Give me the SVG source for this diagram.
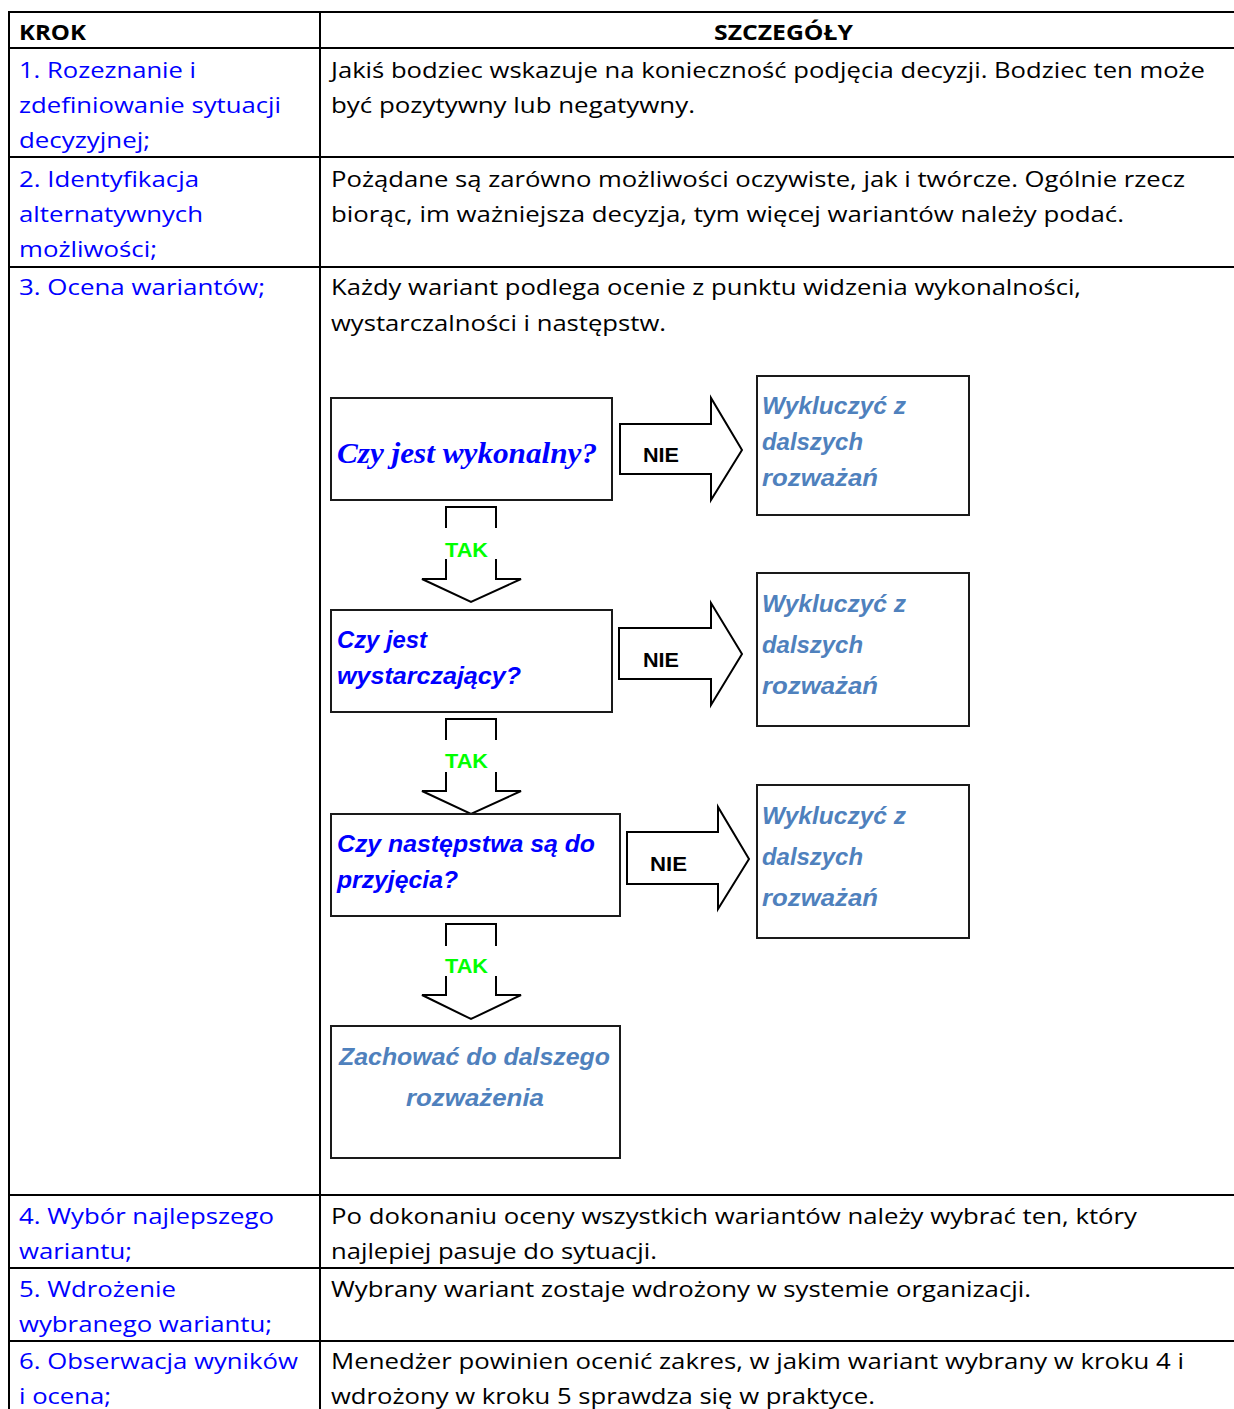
<svg xmlns="http://www.w3.org/2000/svg" width="1234" height="1409" viewBox="0 0 1234 1409">
<style>
.t{font-family:"Open Sans","Liberation Sans",Arial,sans-serif;font-size:22px;fill:#000}
.s{fill:#0000ff}
.h{font-weight:bold}
.ln{stroke:#000;stroke-width:2;fill:none}
.box{fill:#fff;stroke:#1a1a1a;stroke-width:2}
.q{font-family:"Liberation Sans",Arial,sans-serif;font-weight:bold;font-style:italic;font-size:24px;fill:#0000ff}
.qs{font-family:"Liberation Serif","Times New Roman",serif;font-weight:bold;font-style:italic;font-size:29px;fill:#0000ff}
.x{font-family:"Liberation Sans",Arial,sans-serif;font-weight:bold;font-style:italic;font-size:23px;fill:#4f81bd}
.arr{fill:#fff;stroke:#000;stroke-width:2;stroke-linejoin:miter}
.nie{font-family:"Liberation Sans",Arial,sans-serif;font-weight:bold;font-size:20px;fill:#000}
.tak{font-family:"Liberation Sans",Arial,sans-serif;font-weight:bold;font-size:21px;fill:#00ff00}
</style>
<rect width="1234" height="1409" fill="#fff"/>
<g id="table">
<line class="ln" x1="9" y1="12" x2="1234" y2="12"/>
<line class="ln" x1="9" y1="48" x2="1234" y2="48"/>
<line class="ln" x1="9" y1="157" x2="1234" y2="157"/>
<line class="ln" x1="9" y1="267" x2="1234" y2="267"/>
<line class="ln" x1="9" y1="1195" x2="1234" y2="1195"/>
<line class="ln" x1="9" y1="1268" x2="1234" y2="1268"/>
<line class="ln" x1="9" y1="1341" x2="1234" y2="1341"/>
<line class="ln" x1="9" y1="11" x2="9" y2="1409"/>
<line class="ln" x1="320" y1="11" x2="320" y2="1409"/>
</g>
<g id="header">
<text class="t h" x="19" y="40" textLength="67" lengthAdjust="spacingAndGlyphs">KROK</text>
<text class="t h" x="714" y="40" textLength="139" lengthAdjust="spacingAndGlyphs">SZCZEGÓŁY</text>
</g>
<g id="row1">
<text class="t s" x="19" y="78" textLength="177" lengthAdjust="spacingAndGlyphs">1. Rozeznanie i</text>
<text class="t s" x="19" y="113" textLength="262" lengthAdjust="spacingAndGlyphs">zdefiniowanie sytuacji</text>
<text class="t s" x="19" y="148" textLength="131" lengthAdjust="spacingAndGlyphs">decyzyjnej;</text>
<text class="t" x="331" y="78" textLength="874" lengthAdjust="spacingAndGlyphs">Jakiś bodziec wskazuje na konieczność podjęcia decyzji. Bodziec ten może</text>
<text class="t" x="331" y="113" textLength="364" lengthAdjust="spacingAndGlyphs">być pozytywny lub negatywny.</text>
</g>
<g id="row2">
<text class="t s" x="19" y="187" textLength="180" lengthAdjust="spacingAndGlyphs">2. Identyfikacja</text>
<text class="t s" x="19" y="222" textLength="184" lengthAdjust="spacingAndGlyphs">alternatywnych</text>
<text class="t s" x="19" y="257" textLength="138" lengthAdjust="spacingAndGlyphs">możliwości;</text>
<text class="t" x="331" y="187" textLength="854" lengthAdjust="spacingAndGlyphs">Pożądane są zarówno możliwości oczywiste, jak i twórcze. Ogólnie rzecz</text>
<text class="t" x="331" y="222" textLength="793" lengthAdjust="spacingAndGlyphs">biorąc, im ważniejsza decyzja, tym więcej wariantów należy podać.</text>
</g>
<g id="row3">
<text class="t s" x="19" y="295" textLength="246" lengthAdjust="spacingAndGlyphs">3. Ocena wariantów;</text>
<text class="t" x="331" y="295" font-size="24" textLength="750" lengthAdjust="spacingAndGlyphs">Każdy wariant podlega ocenie z punktu widzenia wykonalności,</text>
<text class="t" x="331" y="331" font-size="24" textLength="335" lengthAdjust="spacingAndGlyphs">wystarczalności i następstw.</text>
</g>
<g id="row4">
<text class="t s" x="19" y="1224" textLength="255" lengthAdjust="spacingAndGlyphs">4. Wybór najlepszego</text>
<text class="t s" x="19" y="1259" textLength="113" lengthAdjust="spacingAndGlyphs">wariantu;</text>
<text class="t" x="331" y="1224" textLength="806" lengthAdjust="spacingAndGlyphs">Po dokonaniu oceny wszystkich wariantów należy wybrać ten, który</text>
<text class="t" x="331" y="1259" textLength="326" lengthAdjust="spacingAndGlyphs">najlepiej pasuje do sytuacji.</text>
</g>
<g id="row5">
<text class="t s" x="19" y="1297" textLength="157" lengthAdjust="spacingAndGlyphs">5. Wdrożenie</text>
<text class="t s" x="19" y="1332" textLength="253" lengthAdjust="spacingAndGlyphs">wybranego wariantu;</text>
<text class="t" x="331" y="1297" textLength="700" lengthAdjust="spacingAndGlyphs">Wybrany wariant zostaje wdrożony w systemie organizacji.</text>
</g>
<g id="row6">
<text class="t s" x="19" y="1369" textLength="279" lengthAdjust="spacingAndGlyphs">6. Obserwacja wyników</text>
<text class="t s" x="19" y="1404" textLength="92" lengthAdjust="spacingAndGlyphs">i ocena;</text>
<text class="t" x="331" y="1369" textLength="853" lengthAdjust="spacingAndGlyphs">Menedżer powinien ocenić zakres, w jakim wariant wybrany w kroku 4 i</text>
<text class="t" x="331" y="1404" textLength="544" lengthAdjust="spacingAndGlyphs">wdrożony w kroku 5 sprawdza się w praktyce.</text>
</g>
<g id="connectors">
<polygon class="arr" points="446,507 496,507 496,579 521,579 471,602 422,579 446,579"/>
<rect x="440" y="528" width="62" height="31" fill="#fff"/>
<text class="tak" x="445" y="557" textLength="43" lengthAdjust="spacingAndGlyphs">TAK</text>
<polygon class="arr" points="446,719 496,719 496,791 521,791 471,814 422,791 446,791"/>
<rect x="440" y="740" width="62" height="32" fill="#fff"/>
<text class="tak" x="445" y="768" textLength="43" lengthAdjust="spacingAndGlyphs">TAK</text>
<polygon class="arr" points="446,924 496,924 496,995 521,995 471,1019 422,995 446,995"/>
<rect x="440" y="946" width="62" height="30" fill="#fff"/>
<text class="tak" x="445" y="973" textLength="43" lengthAdjust="spacingAndGlyphs">TAK</text>
<polygon class="arr" points="620,424 711,424 711,398 742,450 711,500 711,474 620,474"/>
<text class="nie" x="643" y="462" textLength="36" lengthAdjust="spacingAndGlyphs">NIE</text>
<polygon class="arr" points="619,628 711,628 711,603 742,654 711,705 711,679 619,679"/>
<text class="nie" x="643" y="667" textLength="36" lengthAdjust="spacingAndGlyphs">NIE</text>
<polygon class="arr" points="627,832 718,832 718,807 749,859 718,909 718,884 627,884"/>
<text class="nie" x="650" y="871" textLength="37" lengthAdjust="spacingAndGlyphs">NIE</text>
</g>
<g id="q1">
<rect class="box" x="331" y="398" width="281" height="102"/>
<text class="qs" x="337" y="463" textLength="260" lengthAdjust="spacingAndGlyphs">Czy jest wykonalny?</text>
</g>
<g id="q2">
<rect class="box" x="331" y="610" width="281" height="102"/>
<text class="q" x="337" y="648" textLength="90" lengthAdjust="spacingAndGlyphs">Czy jest</text>
<text class="q" x="337" y="684" textLength="184" lengthAdjust="spacingAndGlyphs">wystarczający?</text>
</g>
<g id="q3">
<rect class="box" x="331" y="814" width="289" height="102"/>
<text class="q" x="337" y="852" textLength="258" lengthAdjust="spacingAndGlyphs">Czy następstwa są do</text>
<text class="q" x="337" y="888" textLength="121" lengthAdjust="spacingAndGlyphs">przyjęcia?</text>
</g>
<g id="keep">
<rect class="box" x="331" y="1026" width="289" height="132"/>
<text class="x" x="339" y="1065" textLength="271" lengthAdjust="spacingAndGlyphs">Zachować do dalszego</text>
<text class="x" x="406" y="1106" textLength="138" lengthAdjust="spacingAndGlyphs">rozważenia</text>
</g>
<g id="ex1">
<rect class="box" x="757" y="376" width="212" height="139"/>
<text class="x" x="762" y="414" textLength="144" lengthAdjust="spacingAndGlyphs">Wykluczyć z</text>
<text class="x" x="762" y="450" textLength="101" lengthAdjust="spacingAndGlyphs">dalszych</text>
<text class="x" x="762" y="486" textLength="116" lengthAdjust="spacingAndGlyphs">rozważań</text>
</g>
<g id="ex2">
<rect class="box" x="757" y="573" width="212" height="153"/>
<text class="x" x="762" y="612" textLength="144" lengthAdjust="spacingAndGlyphs">Wykluczyć z</text>
<text class="x" x="762" y="653" textLength="101" lengthAdjust="spacingAndGlyphs">dalszych</text>
<text class="x" x="762" y="694" textLength="116" lengthAdjust="spacingAndGlyphs">rozważań</text>
</g>
<g id="ex3">
<rect class="box" x="757" y="785" width="212" height="153"/>
<text class="x" x="762" y="824" textLength="144" lengthAdjust="spacingAndGlyphs">Wykluczyć z</text>
<text class="x" x="762" y="865" textLength="101" lengthAdjust="spacingAndGlyphs">dalszych</text>
<text class="x" x="762" y="906" textLength="116" lengthAdjust="spacingAndGlyphs">rozważań</text>
</g>
</svg>
